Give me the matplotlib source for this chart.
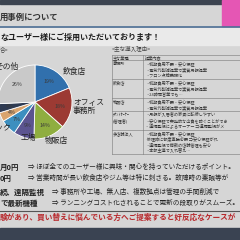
import matplotlib
matplotlib.use('Agg')
import matplotlib.pyplot as plt
from matplotlib.patches import Rectangle

plt.rcParams['font.family'] = ['Noto Sans CJK JP', 'DejaVu Sans']

# pie data (share of users by business type, %)
categories = ['飲食店', 'オフィス\n事務所', '物販店', '工場', 'クリニック', '美容室', 'ジム', 'その他']
shares = [19, 18, 14, 9, 7, 4, 4, 26]
colors = ['#3170ad', '#9c3a33', '#8fae3f', '#5b5490', '#3d8fbf', '#d9a46e', '#2f3b52', '#c9c9c9']

# table data
table_head = ['主な業種', '提案内容']
table_rows = ['事務所', '飲食店', '物販店', 'ﾃﾅﾝﾄｵｰﾅｰ\n(管理者)', '多店舗法人']
table_items = [
    ['・初期費用不要・安心保証', '・電気代削減提案で実質月額提案', '・フロン点検義務化'],
    ['・初期費用不要・安心保証', '・電気代削減提案で実質月額提案', '・24時間営業でも…'],
    ['・初期費用不要・安心保証', '・電気代削減提案で実質月額提案'],
    ['・月額が入居者の家賃に転嫁しやすい', '・安心保証で突発的な出費を防ぐことができ', '・遠隔監視によるオーナー ⇒遠隔監視がメ'],
    ['・初期費用不要・安心保証', '  修理時に都度稟議必要 ⇒安心保証がれ', '・遠隔監視で複数の店舗管理も安心', '・本部主導で入れ替え…'],
]

# bottom points
point_keys = ['月0円', '0円', '続、遠隔監視', 'で最新機種']
point_texts = ['⇒ ほぼ全てのユーザー様に興味・関心を持っていただけるポイント。',
               '⇒ 営業時間が長い飲食店やジム等は特に刺さる。故障時の稟議等が',
               '⇒ 事務所や工場、無人店、複数拠点は管理の手間削減で',
               '⇒ ランニングコスト化されることで更新の段取りがスムーズ。']
red_line = '験があり、買い替えに悩んでいる方へご提案すると好反応なケースが'

W = 240.0


def P(x, y):
    return x / W, 1 - y / W


fig = plt.figure(figsize=(2.4, 2.4), dpi=100, facecolor='#d6d6d6')

# paper bands
fig.patches.append(Rectangle(P(0, 4), 1, 24 / W, transform=fig.transFigure, color='#e4e4e4', zorder=0))
fig.patches.append(Rectangle(P(0, 4), 1, 4 / W, transform=fig.transFigure, color='#3c4450', zorder=0))
fig.patches.append(Rectangle(P(0, 45), 1, 17 / W, transform=fig.transFigure, color='#eaeaea', zorder=0))
fig.patches.append(Rectangle(P(0, 240), 1, 12 / W, transform=fig.transFigure, color='#3a4352', zorder=0))
fig.patches.append(Rectangle(P(222, 26), 18 / W, 26 / W, transform=fig.transFigure, color='#e556b4', zorder=1))
fig.lines.append(plt.Line2D([0, 1], [P(0, 27)[1]] * 2, transform=fig.transFigure, color='#4d6f95', lw=1.2))
fig.lines.append(plt.Line2D([0, 1], [P(0, 211)[1]] * 2, transform=fig.transFigure, color='#555555', lw=0.8))

fig.text(*P(0, 17), '用事例について', fontsize=6, fontweight='bold', color='#333333', va='center')
fig.text(*P(0, 37), 'なユーザー様にご採用いただいております！', fontsize=5.8, fontweight='bold', color='#1e1e1e', va='center')
fig.text(*P(0, 49), '合>', fontsize=4, color='#444444', va='center')
fig.text(*P(112, 49), '<主な導入理由>', fontsize=4, color='#444444', va='center')

# pie
ax = fig.add_axes([(35 - 37) / W, (W - 102 - 37) / W, 74 / W, 74 / W])
total = sum(shares)
ax.pie(shares, colors=colors, startangle=90, counterclock=False, radius=1,
       wedgeprops=dict(edgecolor='white', linewidth=0.6),
       autopct=lambda p: '%d%%' % round(p * total / 100), pctdistance=0.68,
       textprops=dict(fontsize=3.8, color='#3a3a3a'))
ax.set_xlim(-1, 1)
ax.set_ylim(-1, 1)
ax.set_aspect('equal')
ax.axis('off')

# labels of the two small slices lie outside the photo, so they are not drawn
label_pos = [(63, 72, 'left'), (73, 107, 'left'), (45, 141, 'left'), (21, 138, 'left'),
             (11, 127, 'right'), None, None, (18, 67, 'right')]
for name, pos in zip(categories, label_pos):
    if pos is None:
        continue
    x, y, ha = pos
    fig.text(*P(x, y), name, fontsize=5.6, color='#222222', va='center', ha=ha, linespacing=1.1)

# table
tx0, tx1, tx2 = 112, 143, 242
row_y = [55, 60, 79, 98, 111, 130, 154]
for y in row_y:
    fig.lines.append(plt.Line2D([tx0 / W, tx2 / W], [P(0, y)[1]] * 2, transform=fig.transFigure, color='#777777', lw=0.4))
for x in (tx0, tx1):
    fig.lines.append(plt.Line2D([x / W] * 2, [P(0, 55)[1], P(0, 154)[1]], transform=fig.transFigure, color='#777777', lw=0.4))
fig.text(*P(tx0 + 1, 57.5), table_head[0], fontsize=3.0, color='#333333', va='center')
fig.text(*P(tx1 + 2, 57.5), table_head[1], fontsize=3.0, color='#333333', va='center')
for i, (name, items) in enumerate(zip(table_rows, table_items)):
    y0 = row_y[i + 1] + 3.5
    fig.text(*P(tx0 + 1, y0 - 1.8 if '\n' in name else y0), name, fontsize=3.0, color='#333333',
             va='top' if '\n' in name else 'center', linespacing=1.4)
    for j, item in enumerate(items):
        fig.text(*P(tx1 + 2, y0 + j * 5.8), item, fontsize=3.0, color='#333333', va='center')

# bottom lines
key_y = [167, 178, 192, 203]
text_x = [28, 28, 52, 52]
for k, t, y, x in zip(point_keys, point_texts, key_y, text_x):
    fig.text(*P(0, y), k, fontsize=5.4, fontweight='bold', color='#222222', va='center')
    fig.text(*P(x, y), t, fontsize=4.8, color='#222222', va='center')
fig.text(*P(0, 217), red_line, fontsize=5.5, fontweight='bold', color='#b8282c', va='center')

fig.savefig('out.png', dpi=100, facecolor=fig.get_facecolor())
